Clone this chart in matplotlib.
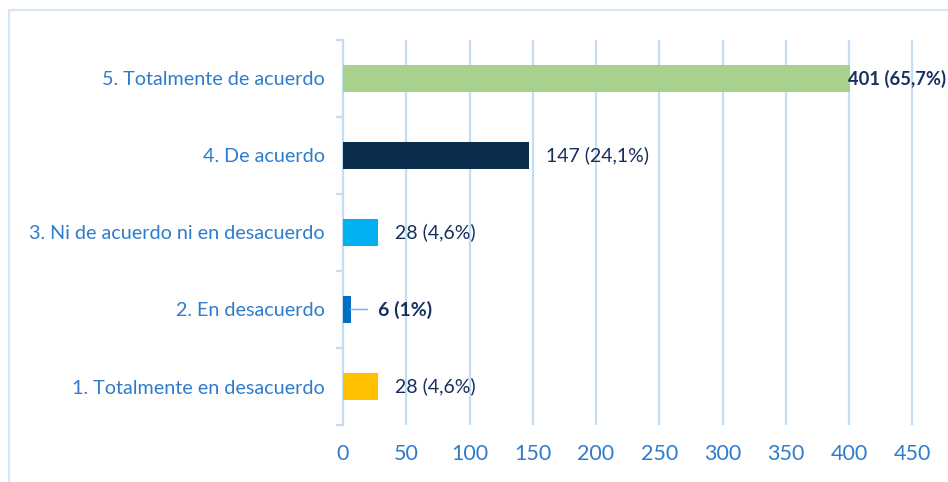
import matplotlib
matplotlib.use('Agg')
from matplotlib import pyplot as plt
from matplotlib.ticker import FixedLocator
from matplotlib.patches import Rectangle

categories = ['1. Totalmente en desacuerdo', '2. En desacuerdo',
              '3. Ni de acuerdo ni en desacuerdo', '4. De acuerdo',
              '5. Totalmente de acuerdo']
counts = [28, 6, 28, 147, 401]
percents = ['4,6%', '1%', '4,6%', '24,1%', '65,7%']
x_ticks = [0, 50, 100, 150, 200, 250, 300, 350, 400, 450]

bar_colors = ['#FFC000', '#0070C0', '#00B0F0', '#0B2D4C', '#A9D18E']
bold_labels = [False, True, False, False, True]

grid_color = '#C5DDF3'
tick_blue = '#2E7CCB'
label_navy = '#15305C'

plt.rcParams['font.family'] = ['Lato', 'DejaVu Sans']

fig = plt.figure(figsize=(9.48, 4.82), dpi=100)
ax = fig.add_axes([343 / 948, 1 - 425 / 482, 1 - 343 / 948, 385 / 482])

# outer chart frame
fig.patches.append(Rectangle((9 / 948, -0.1), 1.2, 1 - 10 / 482 + 0.1,
                             transform=fig.transFigure, fill=False,
                             edgecolor='#D5E6F6', linewidth=1.6))

pos = list(range(len(categories)))
ax.barh(pos, counts, height=0.36, color=bar_colors, zorder=3)

ax.set_xlim(0, 605 / (63.25 / 50))
ax.set_ylim(-0.5, len(categories) - 0.5)

# vertical gridlines only up to 450
for xv in x_ticks[1:]:
    ax.axvline(xv, color=grid_color, linewidth=1.6, zorder=1)

for s in ['top', 'right', 'bottom']:
    ax.spines[s].set_visible(False)
ax.spines['left'].set_color(grid_color)
ax.spines['left'].set_linewidth(1.6)

ax.set_yticks(pos)
ax.set_yticklabels(categories)
ax.yaxis.set_minor_locator(FixedLocator([p - 0.5 for p in pos] + [pos[-1] + 0.5]))
ax.tick_params(axis='y', which='major', length=0, pad=13, labelsize=14.2,
               labelcolor=tick_blue)
ax.tick_params(axis='y', which='minor', length=5, width=1.6, color=grid_color)

ax.set_xticks(x_ticks)
ax.tick_params(axis='x', which='major', length=0, pad=14, labelsize=15.5,
               labelcolor=tick_blue)

for p, c, pc, b in zip(pos, counts, percents, bold_labels):
    txt = f'{c} ({pc})'
    weight = 'bold' if b else 'normal'
    if c == 6:
        ax.annotate(txt, xy=(c, p), xytext=(20, 0), textcoords='offset points',
                    va='center', ha='left', fontsize=14, color=label_navy,
                    fontweight=weight,
                    arrowprops=dict(arrowstyle='-', color='#7FB6E8', lw=1.2,
                                    shrinkA=6, shrinkB=0,
                                    relpos=(0, 0.5)))
    elif c > 300:
        ax.annotate(txt, xy=(c, p), xytext=(-1.5, 0), textcoords='offset points',
                    va='center', ha='left', fontsize=13.2, color=label_navy,
                    fontweight=weight, zorder=4)
    else:
        ax.annotate(txt, xy=(c, p), xytext=(12, 0), textcoords='offset points',
                    va='center', ha='left', fontsize=14, color=label_navy,
                    fontweight=weight)

fig.savefig('out.png', dpi=100)
